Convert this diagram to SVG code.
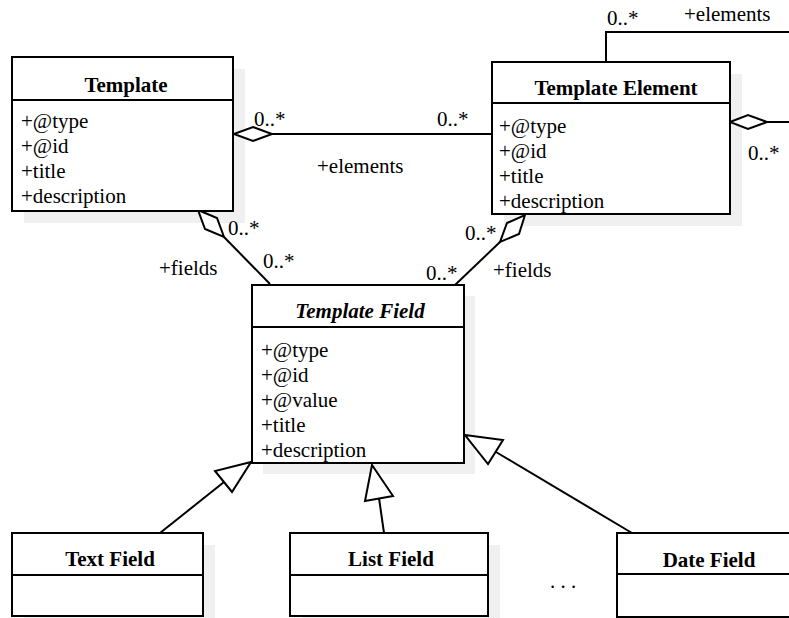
<svg xmlns="http://www.w3.org/2000/svg" width="789" height="618" viewBox="0 0 789 618">
<style>
.shadow{fill:#f0f0f0;stroke:none}
.box{fill:#fff;stroke:#000;stroke-width:2}
.div{stroke:#000;stroke-width:2}
.t{font-family:"Liberation Serif","Times New Roman",serif;font-size:21px;fill:#000}
.h{font-weight:bold;text-anchor:middle}
.i{font-style:italic}
.ln{fill:none;stroke:#000;stroke-width:2}
.dia{fill:#fff;stroke:#000;stroke-width:2}
</style>
<rect width="789" height="618" fill="#fff"/>
<g id="shadows">
<rect class="shadow" x="24" y="69" width="221" height="154"/>
<rect class="shadow" x="504" y="74" width="238" height="152"/>
<rect class="shadow" x="263" y="296" width="212" height="178"/>
<rect class="shadow" x="24" y="545" width="191" height="83"/>
<rect class="shadow" x="302" y="545" width="198" height="83"/>
<rect class="shadow" x="629" y="545" width="200" height="83"/>
</g>
<g id="connectors">
<polyline class="ln" points="606,62 606,32 789,32"/>
<line class="ln" x1="767" y1="122" x2="789" y2="122"/>
<polygon class="dia" points="730,122 748,115 767,122 748,129"/>
<line class="ln" x1="272" y1="134" x2="492" y2="134"/>
<polygon class="dia" points="234,134 253,127 272,134 253,141"/>
<line class="ln" x1="224" y1="237" x2="270" y2="284"/>
<polygon class="dia" points="198,210 217,218 224,237 205,229"/>
<line class="ln" x1="500" y1="242" x2="455" y2="285"/>
<polygon class="dia" points="525,215 519,234 500,242 507,223"/>
<line class="ln" x1="160" y1="533" x2="224" y2="482"/>
<polygon class="dia" points="251,462 215,471 232,492"/>
<line class="ln" x1="384" y1="533" x2="379" y2="498"/>
<polygon class="dia" points="372,465 365,501 393,496"/>
<line class="ln" x1="632" y1="533" x2="496" y2="452"/>
<polygon class="dia" points="465,435 503,440 488,464"/>
<text class="t" x="607" y="25">0..*</text>
<text class="t" x="684" y="21">+elements</text>
<text class="t" x="748" y="160">0..*</text>
<text class="t" x="254" y="126">0..*</text>
<text class="t" x="437" y="126">0..*</text>
<text class="t" x="317" y="173">+elements</text>
<text class="t" x="228" y="235">0..*</text>
<text class="t" x="263" y="268">0..*</text>
<text class="t" x="159" y="275">+fields</text>
<text class="t" x="465" y="240">0..*</text>
<text class="t" x="426" y="280">0..*</text>
<text class="t" x="493" y="277">+fields</text>
<text class="t" x="550" y="588">. . .</text>
</g>
<g id="template">
<rect class="box" x="12" y="57" width="221" height="154"/>
<line class="div" x1="12" y1="100" x2="233" y2="100"/>
<text class="t h" x="126" y="92">Template</text>
<text class="t" x="21" y="128">+@type</text>
<text class="t" x="21" y="153">+@id</text>
<text class="t" x="21" y="178">+title</text>
<text class="t" x="21" y="203">+description</text>
</g>
<g id="template-element">
<rect class="box" x="492" y="62" width="238" height="152"/>
<line class="div" x1="492" y1="103" x2="730" y2="103"/>
<text class="t h" x="616" y="95">Template Element</text>
<text class="t" x="499" y="133">+@type</text>
<text class="t" x="499" y="158">+@id</text>
<text class="t" x="499" y="183">+title</text>
<text class="t" x="499" y="208">+description</text>
</g>
<g id="template-field">
<rect class="box" x="252" y="285" width="212" height="178"/>
<line class="div" x1="252" y1="327" x2="464" y2="327"/>
<text class="t h i" x="360" y="318">Template Field</text>
<text class="t" x="261" y="357">+@type</text>
<text class="t" x="261" y="382">+@id</text>
<text class="t" x="261" y="407">+@value</text>
<text class="t" x="261" y="432">+title</text>
<text class="t" x="261" y="457">+description</text>
</g>
<g id="text-field">
<rect class="box" x="12" y="533" width="191" height="83"/>
<line class="div" x1="12" y1="575" x2="203" y2="575"/>
<text class="t h" x="110" y="566">Text Field</text>
</g>
<g id="list-field">
<rect class="box" x="290" y="533" width="198" height="83"/>
<line class="div" x1="290" y1="575" x2="488" y2="575"/>
<text class="t h" x="391" y="566">List Field</text>
</g>
<g id="date-field">
<rect class="box" x="617" y="533" width="200" height="84"/>
<line class="div" x1="617" y1="574" x2="817" y2="574"/>
<text class="t h" x="709" y="567">Date Field</text>
</g>
</svg>
